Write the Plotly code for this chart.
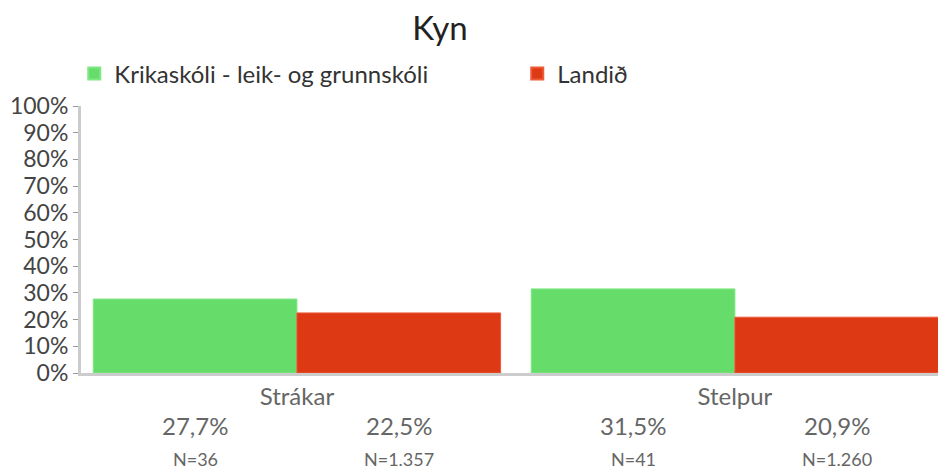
import plotly.graph_objects as go

categories = ["Strákar", "Stelpur"]
series_names = ["Krikaskóli - leik- og grunnskóli", "Landið"]
krika_values = [27.7, 31.5]
land_values = [22.5, 20.9]
krika_n = ["N=36", "N=41"]
land_n = ["N=1.357", "N=1.260"]
colors = ["#66dc6a", "#dd3914"]
edge_colors = ["#7fe883", "#ee5a38"]
y_ticks = list(range(0, 101, 10))

FONT = "Lato"
x_idx = [0, 1]

# the page body has an 8px margin: figure is sized to fit the 946x473 window exactly
W, H = 938, 465
fig = go.Figure()
for name, vals, col, ec in [(series_names[0], krika_values, colors[0], edge_colors[0]),
                            (series_names[1], land_values, colors[1], edge_colors[1])]:
    fig.add_trace(go.Bar(x=x_idx, y=vals, name=name,
                         marker=dict(color=col, line=dict(color=ec, width=1))))

bar_w = 0.93 / 2
annotations = []
for i in x_idx:
    for j, (vals, ns) in enumerate([(krika_values, krika_n), (land_values, land_n)]):
        xpos = i + (j - 0.5) * bar_w
        annotations.append(dict(x=xpos, y=0, xref="x", yref="y", showarrow=False,
                                text=f"{vals[i]:.1f}%".replace(".", ","),
                                yshift=-52, font=dict(family=FONT, size=24, color="#666666")))
        annotations.append(dict(x=xpos, y=0, xref="x", yref="y", showarrow=False,
                                text=ns[i], yshift=-86,
                                font=dict(family=FONT, size=18, color="#666666")))

fig.update_layout(
    width=W, height=H,
    margin=dict(l=73, r=0, t=98, b=100, autoexpand=False),
    plot_bgcolor="white", paper_bgcolor="white",
    title=dict(text="Kyn", x=432 / W, xanchor="center", xref="container",
               y=1 - 20 / H, yanchor="middle", yref="container",
               font=dict(family=FONT, size=33, color="#222222")),
    barmode="group", bargap=0.07, bargroupgap=0,
    showlegend=True,
    legend=dict(orientation="h", xref="paper", yref="paper",
                x=-0.0078, y=1.12, xanchor="left", yanchor="middle",
                entrywidth=398, entrywidthmode="pixels",
                font=dict(family=FONT, size=24, color="#333333"),
                itemsizing="constant"),
    xaxis=dict(range=[-0.493, 1.482], tickvals=x_idx, ticktext=categories,
               showline=True, linecolor="#cccccc", linewidth=3, showgrid=False,
               ticks="", zeroline=False, automargin=False,
               tickfont=dict(family=FONT, size=24, color="#666666")),
    yaxis=dict(range=[0, 100], tickvals=y_ticks, ticktext=[f"{v}%" for v in y_ticks],
               showline=True, linecolor="#cccccc", linewidth=3, showgrid=False,
               ticks="outside", ticklen=5, tickcolor="#999999", tickwidth=1,
               zeroline=False, automargin=False,
               tickfont=dict(family=FONT, size=23, color="#444444")),
    annotations=annotations,
)

fig.write_html("out.html")
